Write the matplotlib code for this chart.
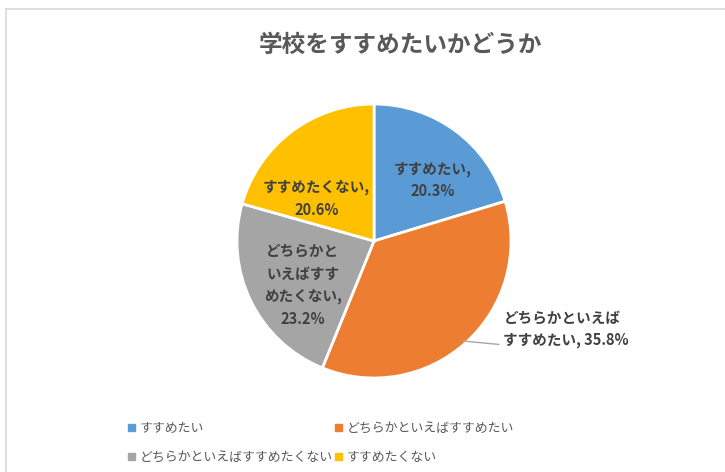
import matplotlib
matplotlib.use("Agg")
import matplotlib.pyplot as plt
from matplotlib.patches import Rectangle
from matplotlib.lines import Line2D

plt.rcParams['font.family'] = ['Noto Sans CJK JP', 'DejaVu Sans']

# data
title = "学校をすすめたいかどうか"
categories = ["すすめたい", "どちらかといえばすすめたい",
              "どちらかといえばすすめたくない", "すすめたくない"]
values = [20.3, 35.8, 23.2, 20.6]
pie_labels = ["すすめたい,\n20.3%", "どちらかといえば\nすすめたい, 35.8%",
              "どちらかと\nいえばすす\nめたくない,\n23.2%", "すすめたくない,\n20.6%"]
colors = ["#5B9BD5", "#ED7D31", "#A5A5A5", "#FFC000"]

W, H = 725, 472
fig = plt.figure(figsize=(W / 100, H / 100), dpi=100)

# chart frame (only top and left edges visible in the crop)
fig.add_artist(Line2D([6 / W, 6 / W], [0, 1 - 9 / H], color="#D9D9D9", lw=1.2))
fig.add_artist(Line2D([6 / W, 1], [1 - 9 / H, 1 - 9 / H], color="#D9D9D9", lw=1.2))

fig.text(400 / W, 1 - 45 / H, title, ha="center", va="center",
         fontsize=17, fontweight="bold", color="#595959")

# pie axes, centre (374, 241) px, radius 137 px
cx, cy, R = 374, 241, 137
ax = fig.add_axes([(cx - R) / W, (H - cy - R) / H, 2 * R / W, 2 * R / H])
wedges, _ = ax.pie(values, colors=colors, startangle=90, counterclock=False,
                   wedgeprops=dict(edgecolor="white", linewidth=2))
ax.set_xlim(-1, 1)
ax.set_ylim(-1, 1)
ax.set_aspect("equal")

lbl_style = dict(fontsize=10.5, fontweight="bold", color="#404040", linespacing=1.5)
ax.text(0.43, 0.445, pie_labels[0], ha="center", va="center", **lbl_style)
ax.text(-0.42, 0.31, pie_labels[3], ha="center", va="center", **lbl_style)
ax.text(-0.52, -0.32, pie_labels[2], ha="center", va="center", **lbl_style)
ax.text(0.945, -0.64, pie_labels[1], ha="left", va="center",
        clip_on=False, **lbl_style)
ax.plot([0.65, 0.91], [-0.73, -0.755], color="#A6A6A6", lw=1, clip_on=False)

# legend, row-major order
order = [0, 2, 1, 3]
handles = [Rectangle((0, 0), 1, 1, color=colors[i]) for i in order]
leg = fig.legend(handles, [categories[i] for i in order], ncol=2,
                 loc="upper left", bbox_to_anchor=(128 / W, 1 - 422 / H),
                 frameon=False, fontsize=9.3, handlelength=0.55, handleheight=0.55,
                 handletextpad=0.35, columnspacing=0.2, labelspacing=1.25,
                 borderpad=0, borderaxespad=0)
for t in leg.get_texts():
    t.set_color("#595959")

fig.savefig("out.png", dpi=100)
